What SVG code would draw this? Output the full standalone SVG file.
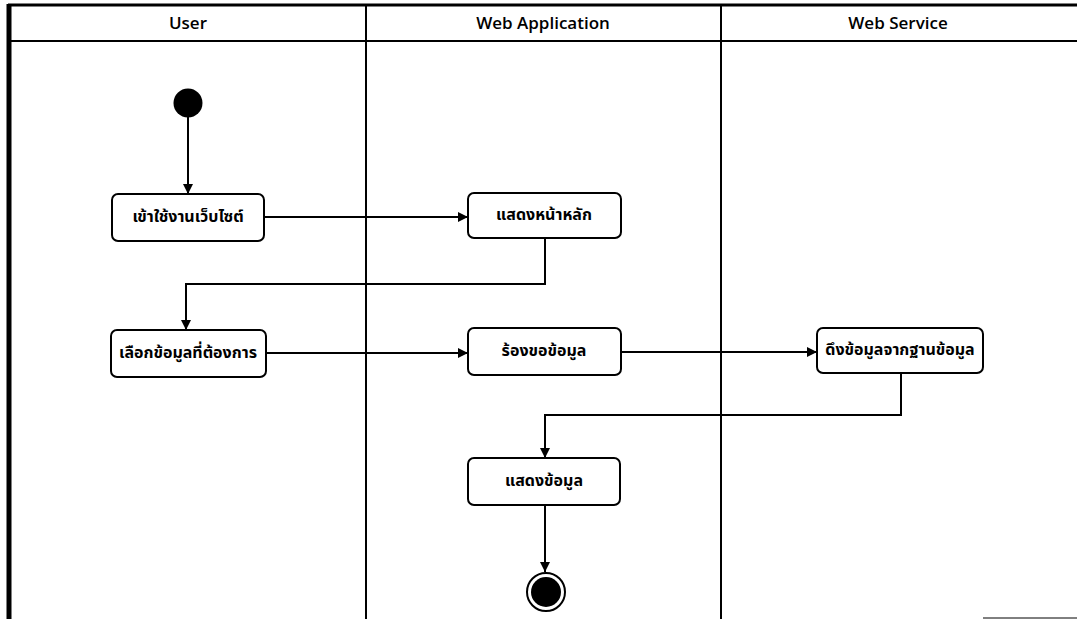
<svg xmlns="http://www.w3.org/2000/svg" width="1077" height="619" viewBox="0 0 1077 619">
<defs>
<marker id="arr" viewBox="0 0 10 10" refX="10" refY="5" markerWidth="10" markerHeight="10" markerUnits="userSpaceOnUse" orient="auto">
<path d="M0,0 L10,5 L0,10 z" fill="#000"/>
</marker>
<style>
.lane{fill:none;stroke:#000;stroke-width:2}
.hdr{font-family:"Open Sans","Noto Sans","DejaVu Sans",sans-serif;font-size:17px;font-weight:600;fill:#000;text-anchor:middle}
.box{fill:#fff;stroke:#000;stroke-width:2}
.lbl{font-family:"Noto Sans Thai","Noto Sans","DejaVu Sans",sans-serif;font-size:16px;font-weight:bold;fill:#000;text-anchor:middle;dominant-baseline:central}
.con{fill:none;stroke:#000;stroke-width:2;marker-end:url(#arr)}
</style>
</defs>
<rect width="1077" height="619" fill="#fff"/>
<g id="lanes">
<line x1="8" y1="5" x2="1077" y2="5" stroke="#000" stroke-width="3"/>
<line x1="8" y1="41" x2="1077" y2="41" class="lane"/>
<line x1="9" y1="4" x2="9" y2="619" stroke="#000" stroke-width="5"/>
<line x1="366" y1="5" x2="366" y2="619" class="lane"/>
<line x1="721" y1="5" x2="721" y2="619" class="lane"/>
<line x1="983" y1="618" x2="1077" y2="618" stroke="#000" stroke-width="1"/>
<text x="188" y="29" class="hdr">User</text>
<text x="543" y="29" class="hdr">Web Application</text>
<text x="898" y="29" class="hdr">Web Service</text>
</g>
<g id="connectors">
<line x1="188" y1="117" x2="188" y2="194" class="con"/>
<line x1="264" y1="217" x2="468" y2="217" class="con"/>
<polyline points="545,238 545,284 186,284 186,330" class="con"/>
<line x1="266" y1="353" x2="468" y2="353" class="con"/>
<line x1="621" y1="352" x2="817" y2="352" class="con"/>
<polyline points="901,373 901,415 545,415 545,458" class="con"/>
<line x1="545" y1="505" x2="545" y2="572" class="con"/>
</g>
<g id="start"><circle cx="188" cy="103" r="14.5" fill="#000"/></g>
<g id="n1"><rect x="112" y="194" width="152" height="47" rx="6" class="box"/><text x="188" y="217" class="lbl">เข้าใช้งานเว็บไซต์</text></g>
<g id="n2"><rect x="468" y="193" width="153" height="45" rx="6" class="box"/><text x="544" y="215" class="lbl">แสดงหน้าหลัก</text></g>
<g id="n3"><rect x="111" y="330" width="155" height="47" rx="6" class="box"/><text x="188" y="353" class="lbl">เลือกข้อมูลที่ต้องการ</text></g>
<g id="n4"><rect x="468" y="328" width="153" height="47" rx="6" class="box"/><text x="544" y="351" class="lbl">ร้องขอข้อมูล</text></g>
<g id="n5"><rect x="817" y="328" width="166" height="45" rx="6" class="box"/><text x="900" y="350" class="lbl">ดึงข้อมูลจากฐานข้อมูล</text></g>
<g id="n6"><rect x="468" y="458" width="152" height="47" rx="6" class="box"/><text x="544" y="481" class="lbl">แสดงข้อมูล</text></g>
<g id="end"><circle cx="546" cy="592" r="19" fill="#fff" stroke="#000" stroke-width="2"/><circle cx="546" cy="592" r="15" fill="#000"/></g>
</svg>
